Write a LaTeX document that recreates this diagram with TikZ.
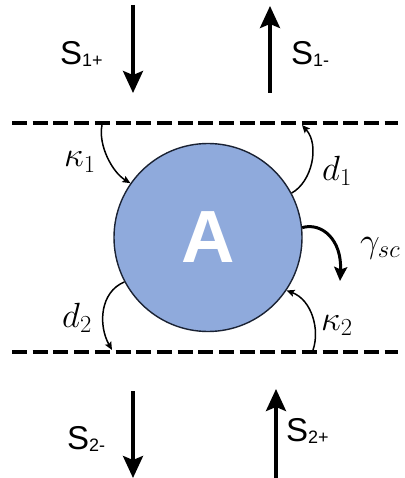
\RequirePackage{fix-cm}
\documentclass[tikz,border=0pt]{standalone}
\usepackage{fontspec}
\setsansfont{Liberation Sans}
\usetikzlibrary{arrows.meta}
\definecolor{circfill}{HTML}{8FAADC}
\definecolor{circline}{HTML}{1A2233}
\tikzset{
  dashline/.style={line width=4pt, dash pattern=on 15pt off 5.7pt},
  bigarrow/.style={line width=3.5pt, -{Stealth[length=22pt,width=20pt,inset=4pt]}},
  smallarrow/.style={line width=1.5pt, -{Stealth[length=8pt,width=7pt,inset=1.5pt]}},
  gammaarrow/.style={line width=3pt, -{Stealth[length=14pt,width=13pt,inset=2.5pt]}},
  slabel/.style={anchor=base west, inner sep=0pt, font=\sffamily\fontsize{33}{38}\selectfont},
  mlabel/.style={anchor=base west, inner sep=0pt, font=\fontsize{35}{40}\selectfont},
}
\newcommand{\ssub}[1]{\raisebox{-2pt}{\fontsize{18}{20}\selectfont #1}}
\begin{document}
\begin{tikzpicture}[x=1pt,y=-1pt]
\useasboundingbox (0,0) rectangle (404,478);
% dashed boundaries
\coordinate (tl) at (12,123);
\coordinate (tr) at (398,123);
\coordinate (bl) at (12,352);
\coordinate (br) at (398,352);
\draw[dashline] (tl) -- (tr);
\draw[dashline] (bl) -- (br);
% resonator
\node[circle, draw=circline, line width=1.4pt, fill=circfill, minimum size=188pt, inner sep=0pt,
      text=white, font=\sffamily\bfseries\fontsize{74}{84}\selectfont] (A) at (208,237.5) {A};
% straight wave arrows
\coordinate (s1pa) at (133,5);
\coordinate (s1pb) at (133,93);
\coordinate (s1ma) at (270,93);
\coordinate (s1mb) at (270,6);
\coordinate (s2ma) at (133,391);
\coordinate (s2mb) at (133,478);
\coordinate (s2pa) at (276,478);
\coordinate (s2pb) at (276,389);
\draw[bigarrow] (s1pa) -- (s1pb);
\draw[bigarrow] (s1ma) -- (s1mb);
\draw[bigarrow] (s2ma) -- (s2mb);
\draw[bigarrow] (s2pa) -- (s2pb);
\node[slabel] (ls1p) at (60,65) {S\ssub{1+}};
\node[slabel] (ls1m) at (291,65) {S\ssub{1-}};
\node[slabel] (ls2m) at (67,449) {S\ssub{2-}};
\node[slabel] (ls2p) at (286,441) {S\ssub{2+}};
% coupling arrows
\coordinate (k1s) at (102,125);
\coordinate (d1e) at (302,125);
\coordinate (d2e) at (112,350);
\coordinate (k2s) at (313,350);
\coordinate (ge) at (340,281);
\draw[smallarrow] (k1s) .. controls (98,145) and (112,172) .. (A.145);
\draw[smallarrow] (A.28) .. controls (312,182) and (320,145) .. (d1e);
\draw[smallarrow] (A.208) .. controls (100,292) and (98,325) .. (d2e);
\draw[smallarrow] (k2s) .. controls (320,330) and (312,300) .. (A.326);
\draw[gammaarrow] (A.6) .. controls (322,222) and (342,240) .. (ge);
% labels
\node[mlabel] (lk1) at (64,167) {$\kappa_1$};
\node[mlabel] (ld1) at (322,180) {$d_1$};
\node[mlabel] (lg) at (360,252) {$\gamma_{sc}$};
\node[mlabel] (ld2) at (62,327) {$d_2$};
\node[mlabel] (lk2) at (321,330) {$\kappa_2$};
\end{tikzpicture}
\end{document}
